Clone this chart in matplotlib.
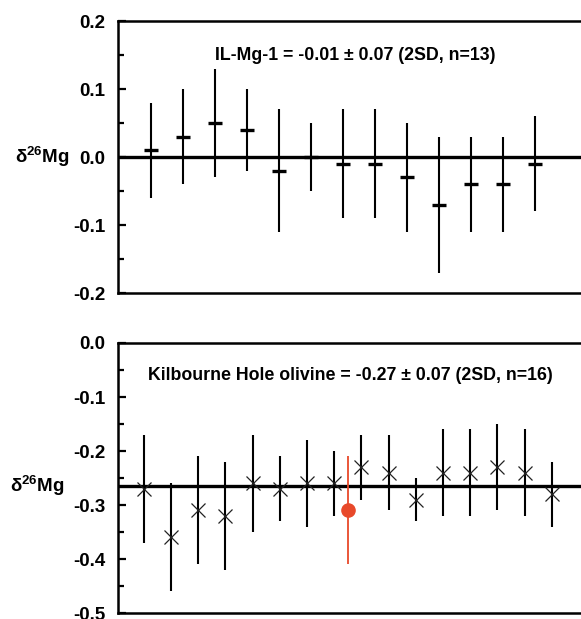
import numpy as np
import matplotlib
matplotlib.use("Agg")
import matplotlib.pyplot as plt
from matplotlib.ticker import MultipleLocator
import matplotlib.transforms as mtransforms

plt.rcParams['font.family'] = ['Liberation Sans', 'DejaVu Sans']
plt.rcParams['font.weight'] = 'bold'
plt.rcParams['mathtext.fontset'] = 'custom'
plt.rcParams['mathtext.bf'] = 'Liberation Sans:bold'
plt.rcParams['mathtext.rm'] = 'Liberation Sans:bold'

# IL-Mg-1 replicate measurements
il_x = np.arange(1, 14)
il_d26 = [0.01, 0.03, 0.05, 0.04, -0.02, 0.00, -0.01, -0.01, -0.03, -0.07, -0.04, -0.04, -0.01]
il_err = [0.07, 0.07, 0.08, 0.06, 0.09, 0.05, 0.08, 0.08, 0.08, 0.10, 0.07, 0.07, 0.07]
il_mean = 0.0
il_label = "IL-Mg-1 = -0.01 ± 0.07 (2SD, n=13)"

# Kilbourne Hole olivine replicate measurements
kh_x = np.arange(1, 17)
kh_d26 = [-0.27, -0.36, -0.31, -0.32, -0.26, -0.27, -0.26, -0.26,
          -0.23, -0.24, -0.29, -0.24, -0.24, -0.23, -0.24, -0.28]
kh_err = [0.10, 0.10, 0.10, 0.10, 0.09, 0.06, 0.08, 0.06,
          0.06, 0.07, 0.04, 0.08, 0.08, 0.08, 0.08, 0.06]
kh_mean = -0.265
kh_label = "Kilbourne Hole olivine = -0.27 ± 0.07 (2SD, n=16)"

# single highlighted measurement
red_x = [8.5]
red_d26 = [-0.31]
red_err = [0.10]

W, H = 581, 619
fig = plt.figure(figsize=(W / 100, H / 100), dpi=100)

ax1 = fig.add_axes([118 / W, (H - 293) / H, 1 - 118 / W, 272 / H])
ax2 = fig.add_axes([118 / W, (H - 613) / H, 1 - 118 / W, 270 / H])


def style(ax, ylo, yhi):
    ax.set_ylim(ylo, yhi)
    ax.yaxis.set_major_locator(MultipleLocator(0.1))
    ax.yaxis.set_minor_locator(MultipleLocator(0.05))
    ax.tick_params(axis='y', which='both', direction='in', width=1.6, labelsize=13.5, pad=9)
    ax.tick_params(axis='y', which='major', length=6)
    ax.tick_params(axis='y', which='minor', length=4)
    ax.set_xticks([])
    ax.spines['right'].set_visible(False)
    for s in ['left', 'top', 'bottom']:
        ax.spines[s].set_linewidth(1.8)
    ax.yaxis.set_major_formatter(plt.FuncFormatter(lambda v, p: f"{v:.1f}".replace("-0.0", "0.0")))


def blend(ax):
    return mtransforms.blended_transform_factory(ax.transAxes, ax.transData)


# top panel
style(ax1, -0.2, 0.2)
ax1.set_xlim(-0.03, 14.44)
ax1.axhline(il_mean, color='black', lw=2.4, zorder=1)
ax1.errorbar(il_x, il_d26, yerr=il_err, fmt='_', color='black', ms=10, mew=2.4,
             elinewidth=1.5, capsize=0, zorder=3)
ax1.text((355 - 118) / (W - 118), 0.15, il_label, transform=blend(ax1),
         ha='center', va='center', fontsize=12.8, fontweight='bold')

# bottom panel
style(ax2, -0.5, 0.0)
ax2.set_xlim(0.05, 17.07)
ax2.axhline(kh_mean, color='black', lw=2.4, zorder=1)
ax2.errorbar(kh_x, kh_d26, yerr=kh_err, fmt='x', color='black', mec='#222222', ms=9.5,
             mew=0.9, elinewidth=1.5, capsize=0, zorder=3)
ax2.errorbar(red_x, red_d26, yerr=red_err, fmt='o', color='#E8492A', ms=9.5,
             elinewidth=1.3, capsize=0, zorder=4)
ax2.text((350 - 118) / (W - 118), -0.06, kh_label, transform=blend(ax2),
         ha='center', va='center', fontsize=12.8, fontweight='bold')

# y labels placed at the mean line level
ylab = "δ$^{\\mathbf{26}}$Mg"
ax1.text((69 - 118) / (W - 118), il_mean, ylab, transform=blend(ax1),
         ha='right', va='center', fontsize=13.5, fontweight='bold')
ax2.text((64 - 118) / (W - 118), kh_mean, ylab, transform=blend(ax2),
         ha='right', va='center', fontsize=13.5, fontweight='bold')

fig.savefig("out.png", dpi=100)
